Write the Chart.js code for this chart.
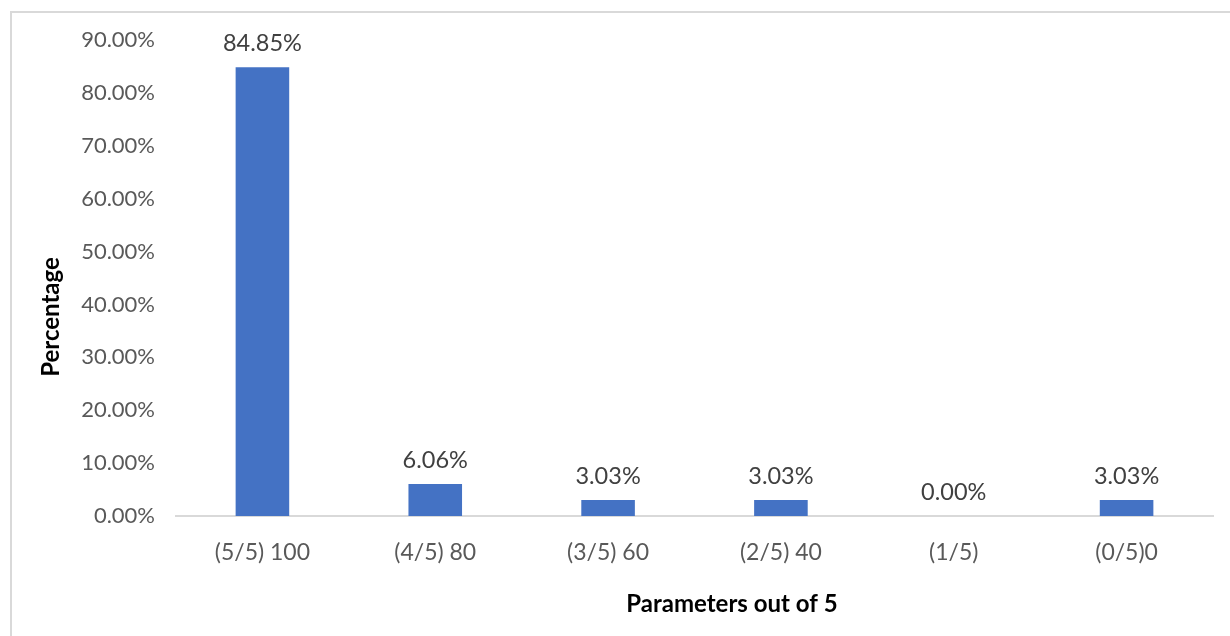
<!DOCTYPE html>
<html>
<head>
<meta charset="utf-8">
<script src="https://cdn.jsdelivr.net/npm/chart.js@4"></script>
<style>
  html, body { margin: 0; padding: 0; background: #ffffff; }
  #wrap { position: relative; width: 1230px; height: 636px; overflow: hidden; }
  canvas { display: block; }
</style>
</head>
<body>
<div id="wrap"><canvas id="chart" width="1230" height="636"></canvas></div>
<script>
// Share of entries by number of parameters met
const categories = ['(5/5) 100', '(4/5) 80', '(3/5) 60', '(2/5) 40', '(1/5)', '(0/5)0'];
const percentages = [84.85, 6.06, 3.03, 3.03, 0.00, 3.03];
const yTickValues = [0, 10, 20, 30, 40, 50, 60, 70, 80, 90];

const xTitle = 'Parameters out of 5';
const yTitle = 'Percentage';

const FONT = 'Lato, "Open Sans", sans-serif';

// Light frame around the whole figure
const framePlugin = {
  id: 'frame',
  beforeDraw(chart) {
    const ctx = chart.ctx;
    ctx.save();
    ctx.strokeStyle = '#D9D9D9';
    ctx.lineWidth = 2;
    ctx.strokeRect(11, 12, 1240, 640);
    ctx.restore();
  }
};

// Value labels above each bar
const valueLabels = {
  id: 'valueLabels',
  afterDatasetsDraw(chart) {
    const ctx = chart.ctx;
    const meta = chart.getDatasetMeta(0);
    const values = chart.data.datasets[0].data;
    ctx.save();
    ctx.font = '23.5px ' + FONT;
    ctx.fillStyle = '#404040';
    ctx.textAlign = 'center';
    ctx.textBaseline = 'middle';
    meta.data.forEach((bar, i) => {
      ctx.fillText(values[i].toFixed(2) + '%', bar.x, bar.y - 24);
    });
    ctx.restore();
  }
};

// Axis titles
const axisTitles = {
  id: 'axisTitles',
  afterDraw(chart) {
    const ctx = chart.ctx;
    const area = chart.chartArea;
    ctx.save();
    ctx.font = 'bold 24px ' + FONT;
    ctx.fillStyle = '#000000';
    ctx.textAlign = 'center';
    ctx.textBaseline = 'middle';
    ctx.fillText(xTitle, area.left + 556, 604);
    ctx.translate(51, area.top + 277);
    ctx.rotate(-Math.PI / 2);
    ctx.fillText(yTitle, 0, 0);
    ctx.restore();
  }
};

new Chart(document.getElementById('chart'), {
  type: 'bar',
  data: {
    labels: categories,
    datasets: [{
      data: percentages,
      backgroundColor: '#4472C4',
      borderWidth: 0,
      categoryPercentage: 1.0,
      barPercentage: 0.31
    }]
  },
  options: {
    responsive: false,
    animation: false,
    devicePixelRatio: 1,
    layout: { padding: { left: 0, right: 17, top: 40, bottom: 0 } },
    plugins: {
      legend: { display: false },
      tooltip: { enabled: false }
    },
    scales: {
      x: {
        grid: { display: false, drawTicks: false },
        border: { display: true, color: '#D9D9D9', width: 2 },
        ticks: { color: '#595959', font: { family: FONT, size: 23 }, padding: 23, maxRotation: 0 },
        afterFit(scale) { scale.height = 120; }
      },
      y: {
        min: 0,
        max: 90,
        grid: { display: false, drawTicks: false },
        border: { display: false },
        afterBuildTicks(scale) { scale.ticks = yTickValues.map(v => ({ value: v })); },
        ticks: {
          color: '#595959',
          font: { family: FONT, size: 22 },
          padding: 21,
          callback: v => Number(v).toFixed(2) + '%'
        },
        afterFit(scale) { scale.width = 176; }
      }
    }
  },
  plugins: [framePlugin, valueLabels, axisTitles]
});
</script>
</body>
</html>
